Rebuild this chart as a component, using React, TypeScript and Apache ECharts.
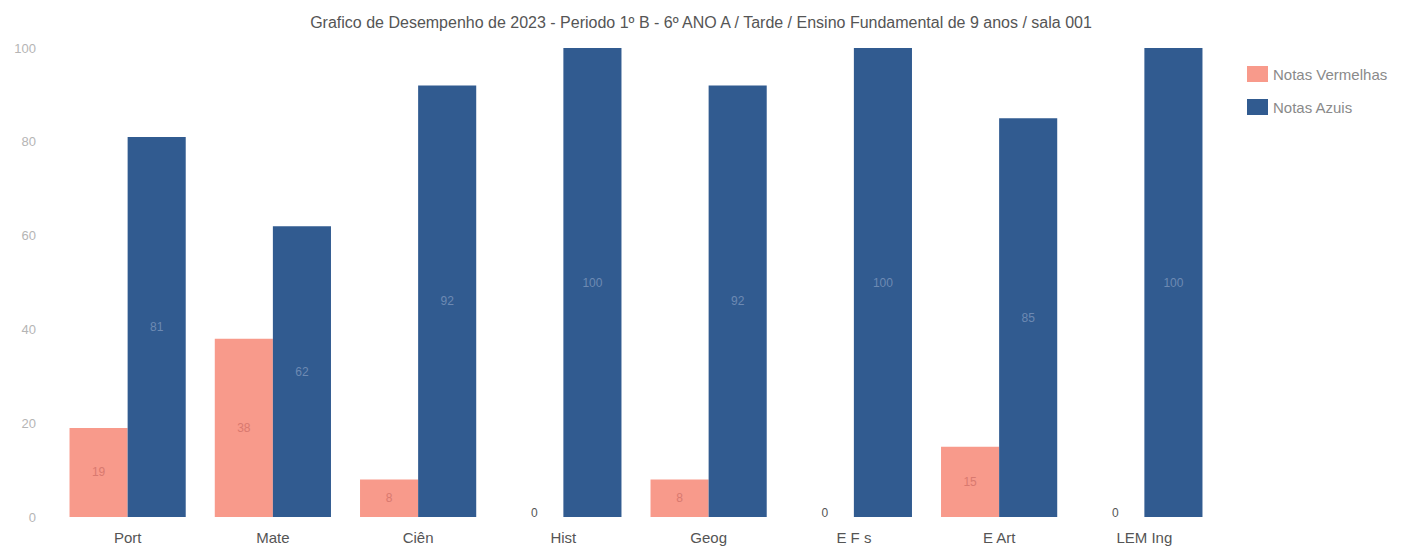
import React, { useEffect, useRef } from "react";
import * as echarts from "echarts";

const categories = ["Port", "Mate", "Ciên", "Hist", "Geog", "E F s", "E Art", "LEM Ing"];
const redValues = [19, 38, 8, 0, 8, 0, 15, 0];
const blueValues = [81, 62, 92, 100, 92, 100, 85, 100];
const yTicks = [0, 20, 40, 60, 80, 100];
const titleText = "Grafico de Desempenho de 2023 - Periodo 1º B - 6º ANO A / Tarde / Ensino Fundamental de 9 anos / sala 001";

export default function App() {
  const ref = useRef<HTMLDivElement>(null);
  useEffect(() => {
    if (!ref.current) return;
    const chart = echarts.init(ref.current, null, { renderer: "svg" });
    const font = "'Liberation Sans', Arial, sans-serif";
    chart.setOption({
      animation: false,
      backgroundColor: "#ffffff",
      textStyle: { fontFamily: font },
      title: {
        text: titleText,
        left: "center",
        top: 9,
        textStyle: { fontSize: 16, fontWeight: "normal", color: "#555", fontFamily: font },
      },
      legend: {
        orient: "vertical",
        left: 1242,
        top: 61,
        itemWidth: 21,
        itemHeight: 16,
        itemGap: 17,
        icon: "rect",
        textStyle: { fontSize: 15, color: "#8a8a8a", fontFamily: font },
        data: ["Notas Vermelhas", "Notas Azuis"],
      },
      grid: { left: 55, right: 185, top: 48, bottom: 33, containLabel: false },
      xAxis: {
        type: "category",
        data: categories,
        axisLine: { show: false },
        axisTick: { show: false },
        axisLabel: { color: "#555", fontSize: 15, margin: 13, fontFamily: font },
      },
      yAxis: {
        type: "value",
        min: yTicks[0],
        max: yTicks[yTicks.length - 1],
        interval: 20,
        splitLine: { show: false },
        axisLine: { show: false },
        axisTick: { show: false },
        axisLabel: { color: "#b5b5b5", fontSize: 13, margin: 19, fontFamily: font },
      },
      series: [
        {
          name: "Notas Vermelhas",
          type: "bar",
          barGap: "0%",
          barCategoryGap: "20%",
          itemStyle: { color: "#F89A8B" },
          data: redValues.map((v) => ({
            value: v,
            label: v === 0 ? { color: "#555", offset: [0, -4] } : { color: "#d9796f" },
          })),
          label: { show: true, position: "inside", fontSize: 12, fontFamily: font },
        },
        {
          name: "Notas Azuis",
          type: "bar",
          barGap: "0%",
          barCategoryGap: "20%",
          itemStyle: { color: "#315B90" },
          data: blueValues,
          label: { show: true, position: "inside", fontSize: 12, color: "#6d8ab3", fontFamily: font },
        },
      ],
    });
    return () => chart.dispose();
  }, []);
  return <div ref={ref} style={{ position: "fixed", left: 0, top: 0, width: 1402, height: 550 }} />;
}
